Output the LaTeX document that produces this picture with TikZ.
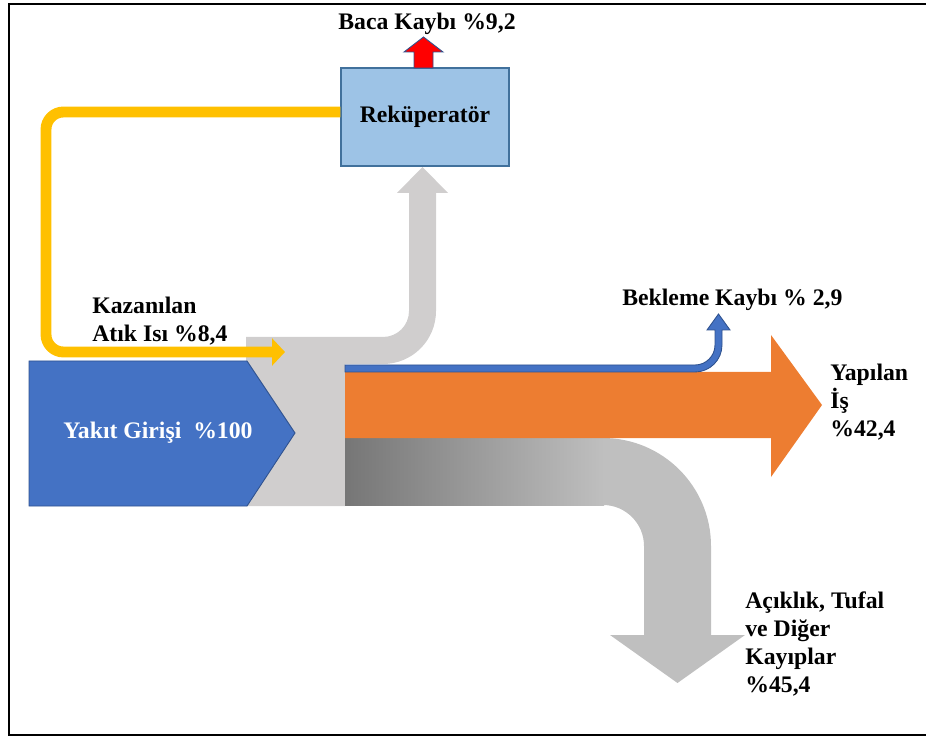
\documentclass[tikz,border=0pt]{standalone}
\usepackage{fontspec}
\setmainfont{Liberation Serif}
\usetikzlibrary{arrows.meta}

\definecolor{fuelblue}{HTML}{4472C4}
\definecolor{edgeblue}{HTML}{2F528F}
\definecolor{boxblue}{HTML}{9DC3E6}
\definecolor{boxedge}{HTML}{41719C}
\definecolor{heatyellow}{HTML}{FFC000}
\definecolor{junctiongray}{HTML}{D0CECE}
\definecolor{workorange}{HTML}{ED7D31}
\definecolor{lossgray}{HTML}{BFBFBF}
\definecolor{lossdark}{HTML}{767676}
\definecolor{stackred}{HTML}{FF0000}

\begin{document}
\begin{tikzpicture}[
  x=0.02cm, y=-0.02cm,
  every node/.style={font=\fontsize{13.5}{16}\selectfont\bfseries, inner sep=0pt},
  lbl/.style={anchor=west, align=left},
  unit/.style={
    draw=boxedge,
    fill=boxblue,
    line width=0.6pt,
    minimum width=3.36cm,
    minimum height=1.96cm
  },
  flow/.style={fill=#1, draw=none},
  outlined/.style={fill=#1, draw=edgeblue, line width=0.5pt},
  heat/.style={
    draw=heatyellow,
    line width=6.2pt,
    rounded corners=0.35cm,
    -{Triangle[length=7.4pt,width=15.3pt]}
  },
]
\useasboundingbox (0,0) rectangle (926,736);

% Frame.
\draw[line width=1.2pt] (926,4) -- (9,4) -- (9,735) -- (926,735);

% Recuperator and stack loss.
\node[unit] (rekup) at (425,117) {Reküperatör};
\node (baca) at (427,24) {Baca Kaybı \%9,2};
\draw[outlined=stackred] (414,68) -- (414,52) -- (404,52) -- (423.5,37) -- (443,52)
  -- (433,52) -- (433,68) -- cycle;

% Junction: gray stream that bends up into the recuperator.
\fill[junctiongray] (246,337) -- (383,337) .. controls (397.4,337) and (409,325.4) .. (409,311)
  -- (409,193) -- (397,193) -- (422.5,167) -- (448,193) -- (436,193) -- (436,311)
  .. controls (436,340.3) and (412.3,364) .. (383,364) -- (345,364) -- (345,506)
  -- (246,506) -- cycle;

% Losses: scale, openings and others.
\fill[flow=lossgray] (345,438) -- (603,438) .. controls (662.6,438) and (711,486.4) .. (711,546)
  -- (711,635) -- (745,635) -- (677.5,683) -- (610,635) -- (644,635) -- (644,546)
  .. controls (644,523.4) and (625.6,505) .. (603,505) -- (345,505) -- cycle;
\shade[left color=lossdark, right color=lossgray] (345,438) rectangle (604,505);

% Useful work.
\fill[flow=workorange] (345,372) -- (771,372) -- (771,335) -- (822,405) -- (771,477)
  -- (771,438) -- (345,438) -- cycle;

% Standby loss.
\draw[outlined=fuelblue] (345,365) -- (695,365) .. controls (706,365) and (715,356) .. (715,345)
  -- (715,330) -- (707,330) -- (718.5,314) -- (730,330) -- (722,330) -- (722,345)
  .. controls (722,359.9) and (709.9,372) .. (695,372) -- (345,372) -- cycle;

% Fuel input.
\draw[outlined=fuelblue] (29,361) -- (247,361) -- (295,433) -- (247,506) -- (29,506) -- cycle;
\node[text=white] (fuel) at (158,433) {Yakıt Girişi~~\%100};

% Recovered waste heat back to the junction.
\coordinate (heatin) at (285,352);
\draw[heat] ([yshift=0.1cm]rekup.west) -- (46,112) -- (46,352) -- (heatin);

% Labels.
\node[lbl] (kazanilan) at (92,321) {Kazanılan\\Atık Isı \%8,4};
\node[lbl] (bekleme) at (622,300) {Bekleme Kaybı \% 2,9};
\node[lbl] (yapilan) at (830,402) {Yapılan\\İş\\\%42,4};
\node[lbl] (kayip) at (745,644) {Açıklık, Tufal\\ve Diğer\\Kayıplar\\\%45,4};

\end{tikzpicture}
\end{document}
